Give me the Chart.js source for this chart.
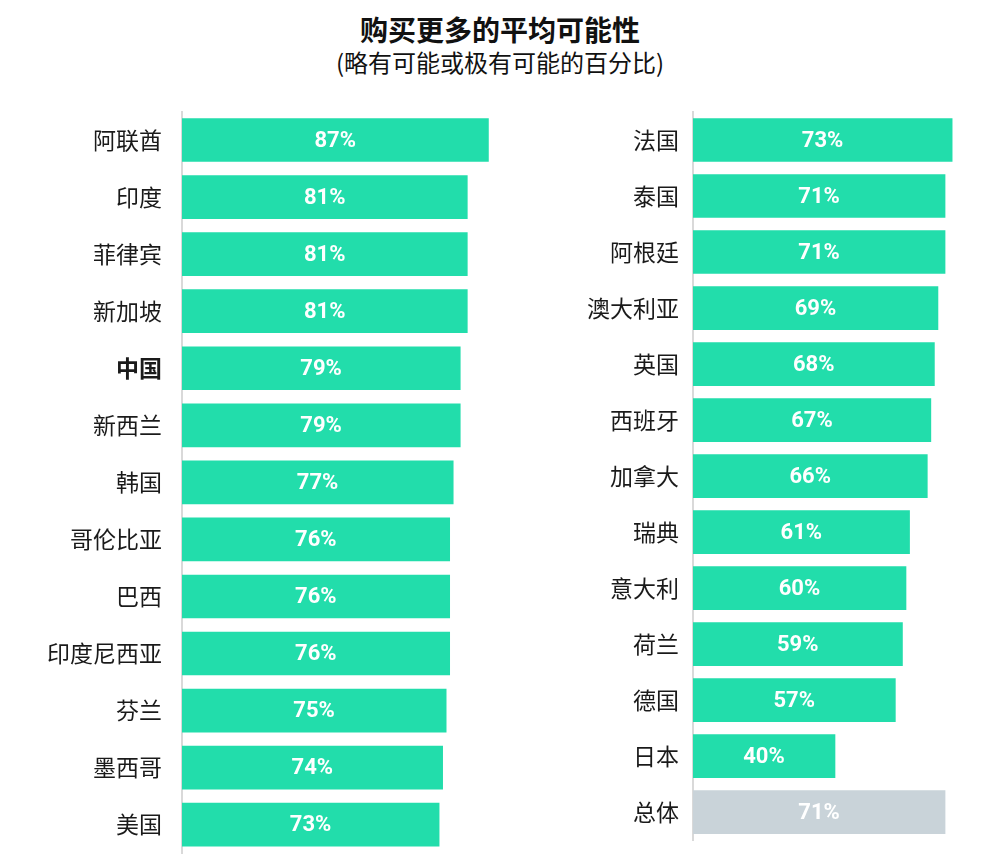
<!DOCTYPE html>
<html>
<head>
<meta charset="utf-8">
<script src="https://cdn.jsdelivr.net/npm/chart.js@4"></script>
<style>
  html, body { margin: 0; padding: 0; background: #fff; width: 1000px; height: 860px; overflow: hidden; }
  .title { position: absolute; left: 0; width: 1000px; text-align: center; font-family: "Noto Sans CJK SC", sans-serif; color: #111; }
  #t1 { top: 10px; font-size: 28px; font-weight: bold; line-height: 38px; }
  #t2 { top: 46px; font-size: 24px; line-height: 32px; }
  .wrap { position: absolute; top: 0; width: 500px; }
  #wl { left: 0; height: 887px; }
  #wr { left: 500px; height: 868px; }
</style>
</head>
<body>
<div class="title" id="t1">购买更多的平均可能性</div>
<div class="title" id="t2">(略有可能或极有可能的百分比)</div>
<div class="wrap" id="wl"><canvas id="cl"></canvas></div>
<div class="wrap" id="wr"><canvas id="cr"></canvas></div>
<script>
const leftCountries = ['阿联酋','印度','菲律宾','新加坡','中国','新西兰','韩国','哥伦比亚','巴西','印度尼西亚','芬兰','墨西哥','美国'];
const leftValues = [87,81,81,81,79,79,77,76,76,76,75,74,73];
const rightCountries = ['法国','泰国','阿根廷','澳大利亚','英国','西班牙','加拿大','瑞典','意大利','荷兰','德国','日本','总体'];
const rightValues = [73,71,71,69,68,67,66,61,60,59,57,40,71];

const GREEN = '#22DDAB';
const GRAY = '#C9D3D9';

const valueLabels = {
  id: 'valueLabels',
  afterDatasetsDraw(chart) {
    const ctx = chart.ctx;
    const ds = chart.data.datasets[0];
    const meta = chart.getDatasetMeta(0);
    ctx.save();
    ctx.fillStyle = '#ffffff';
    ctx.font = 'bold 22px Roboto';
    ctx.textAlign = 'center';
    ctx.textBaseline = 'middle';
    meta.data.forEach((el, i) => {
      const p = el.getProps(['x','y','base'], true);
      ctx.fillText(ds.data[i] + '%', (p.x + p.base) / 2, p.y + 1);
    });
    ctx.restore();
  }
};

function makeChart(id, labels, values, colors, opts) {
  return new Chart(document.getElementById(id), {
    type: 'bar',
    data: {
      labels: labels,
      datasets: [{ data: values, backgroundColor: colors, borderWidth: 0, barThickness: 43 }]
    },
    options: {
      indexAxis: 'y',
      responsive: true,
      maintainAspectRatio: false,
      animation: false,
      layout: { padding: { top: opts.top, bottom: 0, left: 0, right: opts.right } },
      plugins: { legend: { display: false }, tooltip: { enabled: false } },
      scales: {
        x: { display: false, min: 0, max: opts.max },
        y: {
          grid: { display: false, drawTicks: false, tickLength: 0 },
          border: { display: true, color: '#d9d9d9', width: 2 },
          ticks: {
            padding: opts.pad,
            color: '#1a1a1a',
            font: (c) => ({ family: '"Noto Sans CJK SC", sans-serif', size: 23, weight: (c.tick && c.tick.label === '中国') ? 'bold' : 'normal' })
          },
          afterFit: (s) => { s.width = opts.axisW; }
        }
      }
    },
    plugins: [valueLabels]
  });
}

makeChart('cl', leftCountries, leftValues, leftCountries.map(() => GREEN),
  { top: 111.5, right: 1, max: 90, pad: 20, axisW: 182 });
makeChart('cr', rightCountries, rightValues, rightCountries.map(c => c === '总体' ? GRAY : GREEN),
  { top: 112, right: 23, max: 80, pad: 14, axisW: 193 });
</script>
</body>
</html>
